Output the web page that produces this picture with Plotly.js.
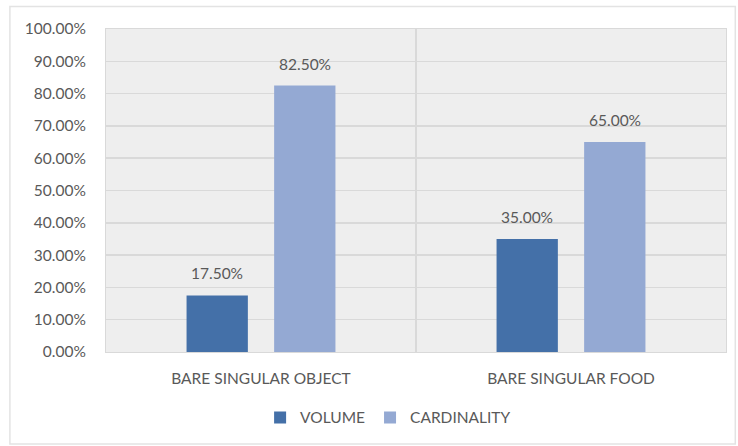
<!DOCTYPE html>
<html><head><meta charset="utf-8">
<script src="https://cdn.plot.ly/plotly-3.0.1.min.js"></script>
<style>html,body{margin:0;padding:0;background:#fff}#chart{width:738px;height:446px}</style>
</head><body><div id="chart"></div>
<script>
const categories = ["BARE SINGULAR OBJECT", "BARE SINGULAR FOOD"];
const volume = [0.175, 0.35];
const cardinality = [0.825, 0.65];
const seriesNames = ["VOLUME", "CARDINALITY"];
const colors = ["#4470a8", "#94a9d3"];
const font = {family: "Lato, Open Sans, sans-serif", size: 15.5, color: "#595959"};

const fmt = v => (v*100).toFixed(2) + "%";
const seriesData = [volume, cardinality];
const traces = seriesData.map((vals, i) => ({
  type:"bar", name:seriesNames[i], x:categories, y:vals, marker:{color:colors[i]},
  offsetgroup:String(i), hoverinfo:"none"
}));
// data labels placed above each bar via axis coordinates
const annotations = [];
seriesData.forEach((vals, i) => {
  vals.forEach((v, j) => {
    annotations.push({xref:"x", yref:"y", x:j + (i === 0 ? -0.141 : 0.141), y:v,
      text:fmt(v), showarrow:false, yanchor:"bottom", yshift:11, font:font});
  });
});
const layout = {
  width:738, height:446,
  margin:{l:106, r:12, t:29, b:93},
  paper_bgcolor:"#ffffff", plot_bgcolor:"#eeeeee",
  barmode:"group", bargap:0.435, bargroupgap:0.3,
  font:font,
  showlegend:true,
  legend:{orientation:"h", x:0.455, xanchor:"center", y:-0.2, yanchor:"middle", font:font,
          itemwidth:30, traceorder:"normal"},
  xaxis:{tickson:"boundaries", showgrid:true, gridcolor:"#d9d9d9", gridwidth:1.5, ticks:"",
         showline:true, linecolor:"#d9d9d9", mirror:true, tickfont:font, fixedrange:true,
         ticklabelstandoff:12},
  yaxis:{range:[0,1], dtick:0.1, tickformat:".2%", showgrid:true, gridcolor:"#d9d9d9", gridwidth:1.5,
         zeroline:false, showline:true, linecolor:"#d9d9d9", mirror:true, ticks:"", ticklen:0,
         tickfont:font, fixedrange:true, ticklabelstandoff:16},
  annotations:annotations,
  shapes:[{type:"rect", xref:"paper", yref:"paper", x0:-0.155, x1:1.015, y0:-0.285, y1:1.07,
           line:{color:"#e3e3e3", width:1.5}, fillcolor:"rgba(0,0,0,0)", layer:"below"}]
};
Plotly.newPlot("chart", traces, layout, {displayModeBar:false, staticPlot:true});
</script></body></html>
